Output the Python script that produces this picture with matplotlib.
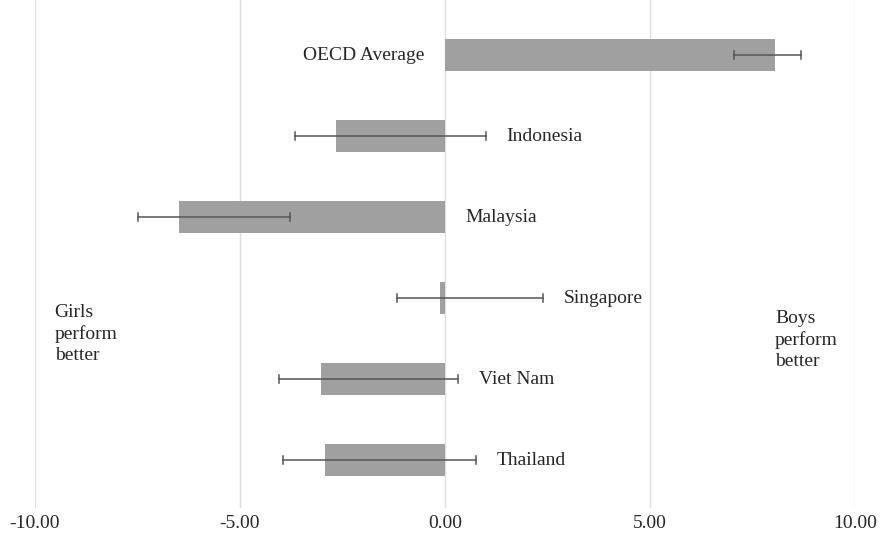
import matplotlib
matplotlib.use("Agg")
import matplotlib.pyplot as plt
import numpy as np

# Gender gap in scores (boys minus girls) with confidence interval bounds
countries = ["OECD Average", "Indonesia", "Malaysia", "Singapore", "Viet Nam", "Thailand"]
gap = [8.05, -2.65, -6.48, -0.12, -3.03, -2.92]
ci_low = [7.05, -3.67, -7.50, -1.16, -4.05, -3.95]
ci_high = [8.68, 0.99, -3.79, 2.38, 0.32, 0.76]
xticks = [-10, -5, 0, 5, 10]

plt.rcParams["font.family"] = ["Liberation Serif", "DejaVu Serif"]
TEXT_COLOR = "#262626"

fig = plt.figure(figsize=(8.84, 5.35), dpi=100)
ax = fig.add_axes([35 / 884, 1 - 508 / 535, 820 / 884, 508 / 535])

y = np.arange(len(countries))
gap_a = np.array(gap)
lo = np.array(ci_low)
hi = np.array(ci_high)

ax.barh(y, gap_a, height=0.39, color="#a0a0a0", zorder=2)

# interval whiskers drawn as line segments with small caps
for yi, l, h in zip(y, lo, hi):
    ax.plot([l, h], [yi, yi], color="#555555", lw=1.1, zorder=3)
    for xe in (l, h):
        ax.plot([xe, xe], [yi - 0.05, yi + 0.05], color="#555555", lw=1.1, zorder=3)

# country labels beside each bar
for yi, g, l, h, name in zip(y, gap_a, lo, hi, countries):
    if g >= 0:
        ax.annotate(name, xy=(min(0, l), yi), xytext=(-15, 0), textcoords="offset points",
                    ha="right", va="center", fontsize=14, color=TEXT_COLOR)
    else:
        ax.annotate(name, xy=(max(0, h), yi), xytext=(15, 0), textcoords="offset points",
                    ha="left", va="center", fontsize=14, color=TEXT_COLOR)

ax.text(-9.52, 3.44, "Girls\nperform\nbetter", ha="left", va="center", fontsize=14,
        linespacing=1.3, color=TEXT_COLOR)
ax.text(8.05, 3.52, "Boys\nperform\nbetter", ha="left", va="center", fontsize=14,
        linespacing=1.3, color=TEXT_COLOR)

ax.set_xlim(-10, 10)
ax.set_ylim(5.59, -0.68)
ax.set_xticks(xticks)
ax.set_xticklabels([f"{t:.2f}" for t in xticks], fontsize=14, color=TEXT_COLOR)
ax.set_yticks([])
ax.tick_params(axis="x", length=0, pad=5)
ax.grid(axis="x", color="#dedede", lw=1.0, zorder=0)
ax.set_axisbelow(True)
for s in ax.spines.values():
    s.set_visible(False)

fig.savefig("out.png", dpi=100)
